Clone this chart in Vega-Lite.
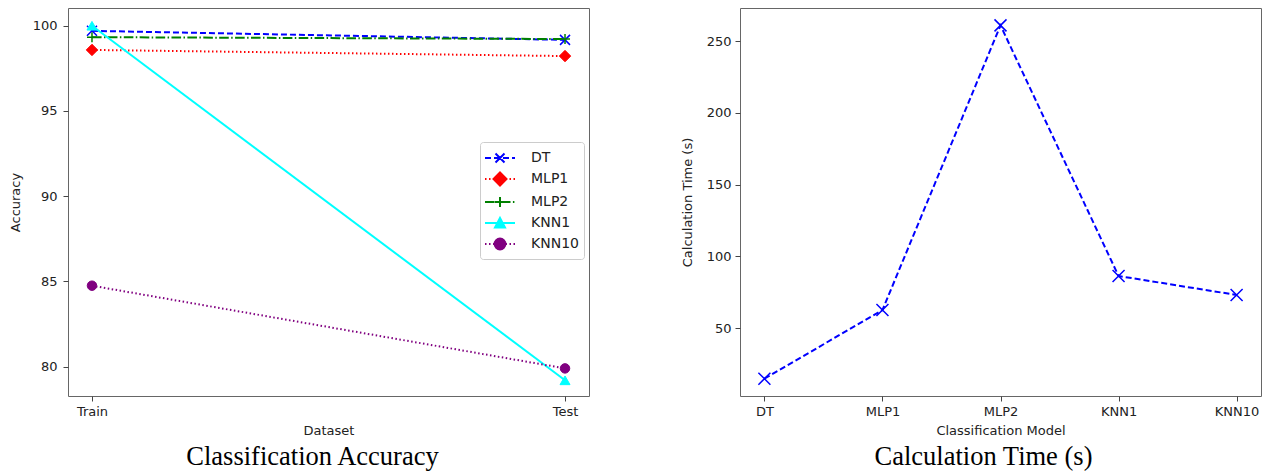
{
  "$schema": "https://vega.github.io/schema/vega-lite/v6.json",
  "padding": {"left": 8, "top": 7, "right": 5, "bottom": 0},
  "background": "white",
  "spacing": 90,
  "config": {
    "view": {"stroke": "#666666", "strokeWidth": 1},
    "axis": {
      "grid": false, "domain": false, "tickColor": "#444444", "tickSize": 5, "tickWidth": 1,
      "labelFont": "DejaVu Sans", "labelFontSize": 13, "labelColor": "#222222",
      "titleFont": "DejaVu Sans", "titleFontSize": 13, "titleFontWeight": "normal", "titleColor": "#222222"
    },
    "axisY": {"minExtent": 40, "maxExtent": 40, "titlePadding": 6, "labelPadding": 6},
    "axisX": {"labelPadding": 4, "titlePadding": 6, "labelAngle": 0},
    "legend": {"orient": "none", "legendX": 412, "legendY": 134, "title": null, "symbolSize": 400, "symbolStrokeWidth": 2, "symbolOpacity": 1, "symbolOffset": 4, "labelFont": "DejaVu Sans", "labelFontSize": 14, "labelColor": "#222222", "labelOffset": 20, "padding": 5, "strokeColor": "#cccccc", "fillColor": "#ffffff", "cornerRadius": 3, "rowPadding": 1}
  },
  "datasets": {
    "acc": [
      {"model": "DT", "dataset": "Train", "accuracy": 99.7},
      {"model": "DT", "dataset": "Test", "accuracy": 99.17},
      {"model": "MLP1", "dataset": "Train", "accuracy": 98.58},
      {"model": "MLP1", "dataset": "Test", "accuracy": 98.22},
      {"model": "MLP2", "dataset": "Train", "accuracy": 99.33},
      {"model": "MLP2", "dataset": "Test", "accuracy": 99.22},
      {"model": "KNN1", "dataset": "Train", "accuracy": 100.0},
      {"model": "KNN1", "dataset": "Test", "accuracy": 79.2},
      {"model": "KNN10", "dataset": "Train", "accuracy": 84.75},
      {"model": "KNN10", "dataset": "Test", "accuracy": 79.9}
    ],
    "time": [
      {"model": "DT", "time": 14.9},
      {"model": "MLP1", "time": 62.7},
      {"model": "MLP2", "time": 260.9},
      {"model": "KNN1", "time": 86.4},
      {"model": "KNN10", "time": 73.2}
    ]
  },
  "hconcat": [
    {
      "width": 521,
      "height": 388,
      "data": {"name": "acc"},
      "title": {"text": "Classification Accuracy", "orient": "bottom", "font": "Liberation Serif", "fontSize": 26.5, "fontWeight": "normal", "color": "#000000", "anchor": "middle", "frame": "group", "dx": -16, "offset": 7},
      "encoding": {
        "x": {"field": "dataset", "type": "nominal", "sort": ["Train", "Test"], "scale": {"type": "point", "padding": 0.0507}, "axis": {"title": "Dataset"}},
        "y": {"field": "accuracy", "type": "quantitative", "scale": {"domain": [78.28, 101.04], "nice": false, "zero": false}, "axis": {"title": "Accuracy", "values": [80, 85, 90, 95, 100]}}
      },
      "layer": [
        {
          "transform": [{"filter": "datum.model === 'DT'"}],
          "mark": {"type": "line", "stroke": "#0000ff", "strokeWidth": 2, "strokeDash": [6, 3]}
        },
        {
          "transform": [{"filter": "datum.model === 'DT'"}],
          "mark": {"type": "point", "shape": "M-1,-1L1,1M-1,1L1,-1", "size": 100, "filled": false, "stroke": "#0000ff", "strokeWidth": 1.5, "opacity": 1}
        },
        {
          "transform": [{"filter": "datum.model === 'MLP1'"}],
          "mark": {"type": "line", "stroke": "#ff0000", "strokeWidth": 2, "strokeDash": [1.5, 2.5]}
        },
        {
          "transform": [{"filter": "datum.model === 'MLP1'"}],
          "mark": {"type": "point", "shape": "diamond", "size": 130, "filled": true, "fill": "#ff0000", "stroke": "#ff0000", "strokeWidth": 1, "opacity": 1}
        },
        {
          "transform": [{"filter": "datum.model === 'MLP2'"}],
          "mark": {"type": "line", "stroke": "#008000", "strokeWidth": 2, "strokeDash": [9.6, 2.4, 1.5, 2.4]}
        },
        {
          "transform": [{"filter": "datum.model === 'MLP2'"}],
          "mark": {"type": "point", "shape": "M-1,0L1,0M0,-1L0,1", "size": 100, "filled": false, "stroke": "#008000", "strokeWidth": 1.5, "opacity": 1}
        },
        {
          "transform": [{"filter": "datum.model === 'KNN1'"}],
          "mark": {"type": "line", "stroke": "#00ffff", "strokeWidth": 2}
        },
        {
          "transform": [{"filter": "datum.model === 'KNN1'"}],
          "mark": {"type": "point", "shape": "triangle-up", "size": 100, "filled": true, "fill": "#00ffff", "stroke": "#00ffff", "strokeWidth": 1, "opacity": 1}
        },
        {
          "transform": [{"filter": "datum.model === 'KNN10'"}],
          "mark": {"type": "line", "stroke": "#800080", "strokeWidth": 2, "strokeDash": [1.5, 2.5]}
        },
        {
          "transform": [{"filter": "datum.model === 'KNN10'"}],
          "mark": {"type": "point", "shape": "circle", "size": 90, "filled": true, "fill": "#800080", "stroke": "#800080", "strokeWidth": 1, "opacity": 1}
        },
        {
          "mark": {"type": "point", "filled": true, "opacity": 0},
          "encoding": {
            "shape": {"field": "model", "type": "nominal",
              "scale": {"domain": ["DT", "MLP1", "MLP2", "KNN1", "KNN10"],
                "range": [
                  "M-1.5,0L-0.9,0M-0.6,0L0,0M0.3,0L0.9,0M1.2,0L1.5,0M-0.45,-0.45L0.45,0.45M-0.45,0.45L0.45,-0.45",
                  "M-1.5,0L-1.35,0M-1.1,0L-0.95,0M-0.7,0L-0.55,0M0.55,0L0.7,0M0.95,0L1.1,0M1.35,0L1.5,0M0,-0.65L0.65,0L0,0.65L-0.65,0Z",
                  "M-1.5,0L-0.54,0M-0.3,0L-0.15,0M0.09,0L1.05,0M1.29,0L1.44,0M-0.5,0L0.5,0M0,-0.5L0,0.5",
                  "M-1.5,0L1.5,0M0,-0.5L0.5,0.45L-0.5,0.45Z",
                  "M-1.5,0L-1.35,0M-1.1,0L-0.95,0M-0.7,0L-0.55,0M0.55,0L0.7,0M0.95,0L1.1,0M1.35,0L1.5,0M0.54,0A0.54,0.54,0,1,1,-0.54,0A0.54,0.54,0,1,1,0.54,0Z"
                ]}
            },
            "fill": {"field": "model", "type": "nominal", "scale": {"domain": ["DT", "MLP1", "MLP2", "KNN1", "KNN10"], "range": ["#0000ff", "#ff0000", "#008000", "#00ffff", "#800080"]}},
            "stroke": {"field": "model", "type": "nominal", "scale": {"domain": ["DT", "MLP1", "MLP2", "KNN1", "KNN10"], "range": ["#0000ff", "#ff0000", "#008000", "#00ffff", "#800080"]}}
          }
        }
      ]
    },
    {
      "width": 521,
      "height": 388,
      "data": {"name": "time"},
      "title": {"text": "Calculation Time (s)", "orient": "bottom", "font": "Liberation Serif", "fontSize": 26.5, "fontWeight": "normal", "color": "#000000", "anchor": "middle", "frame": "group", "dx": -17, "offset": 7},
      "encoding": {
        "x": {"field": "model", "type": "nominal", "sort": ["DT", "MLP1", "MLP2", "KNN1", "KNN10"], "scale": {"type": "point", "padding": 0.2067}, "axis": {"title": "Classification Model"}},
        "y": {"field": "time", "type": "quantitative", "scale": {"domain": [2.85, 273], "nice": false, "zero": false}, "axis": {"title": "Calculation Time (s)", "values": [50, 100, 150, 200, 250], "labelPadding": 4}}
      },
      "layer": [
        {"mark": {"type": "line", "stroke": "#0000ff", "strokeWidth": 2, "strokeDash": [6, 3]}},
        {"mark": {"type": "point", "shape": "M-1,-1L1,1M-1,1L1,-1", "size": 144, "filled": false, "stroke": "#0000ff", "strokeWidth": 1.5, "opacity": 1}}
      ]
    }
  ]
}
